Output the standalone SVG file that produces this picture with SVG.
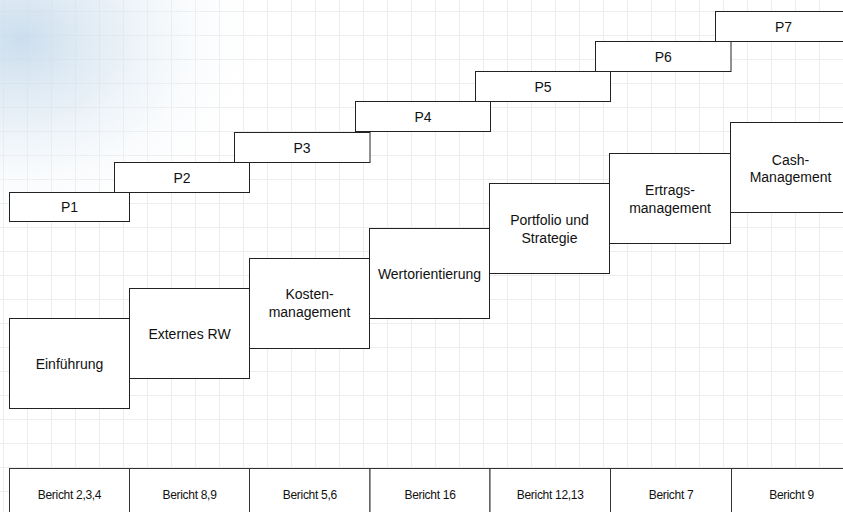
<svg xmlns="http://www.w3.org/2000/svg" width="843" height="512" viewBox="0 0 843 512">
<defs>
<pattern id="grid" x="3" y="11" width="24" height="24" patternUnits="userSpaceOnUse">
<path d="M0.5 0 V24 M0 0.5 H24" stroke="#ededed" stroke-width="1" fill="none"/>
</pattern>
<radialGradient id="cloud" cx="20" cy="40" r="250" gradientUnits="userSpaceOnUse" gradientTransform="translate(20 40) scale(1 0.8) translate(-20 -40)">
<stop offset="0" stop-color="#c6daeb" stop-opacity="0.9"/>
<stop offset="0.4" stop-color="#dae7f2" stop-opacity="0.6"/>
<stop offset="1" stop-color="#ffffff" stop-opacity="0"/>
</radialGradient>
<style>
.box{fill:#ffffff;stroke:#222222;stroke-width:1}
.cell{fill:#ffffff;stroke:#333333;stroke-width:1}
.t{font-family:"Liberation Sans",Arial,sans-serif;font-size:14px;fill:#111111;text-anchor:middle}
.s{font-family:"Liberation Sans",Arial,sans-serif;font-size:12px;fill:#111111;text-anchor:middle;letter-spacing:-0.3px}
</style>
</defs>
<rect x="0" y="0" width="843" height="512" fill="#ffffff"/>
<rect x="0" y="0" width="843" height="512" fill="url(#grid)"/>
<rect x="0" y="0" width="300" height="260" fill="url(#cloud)"/>

<g id="connectors"/>

<g id="P1"><rect class="box" x="9.5" y="192.5" width="120" height="29"/><text class="t" x="69.5" y="212">P1</text></g>
<g id="P2"><rect class="box" x="114.5" y="162.5" width="135" height="30"/><text class="t" x="182" y="182.5">P2</text></g>
<g id="P3"><rect class="box" x="234.5" y="132.5" width="135.5" height="30"/><text class="t" x="302" y="152.5">P3</text></g>
<g id="P4"><rect class="box" x="355.5" y="101.5" width="135" height="30"/><text class="t" x="423" y="121.5">P4</text></g>
<g id="P5"><rect class="box" x="475.5" y="71.5" width="135" height="30"/><text class="t" x="543" y="91.5">P5</text></g>
<g id="P6"><rect class="box" x="595.5" y="41.5" width="135.5" height="30"/><text class="t" x="663.3" y="61.5">P6</text></g>
<g id="P7"><rect class="box" x="715.5" y="11.5" width="135" height="30"/><text class="t" x="783.5" y="31.5">P7</text></g>

<g id="einfuehrung"><rect class="box" x="9.5" y="318.5" width="120" height="90"/><text class="t" x="69.5" y="369">Einführung</text></g>
<g id="externes-rw"><rect class="box" x="129.5" y="288.5" width="120" height="90"/><text class="t" x="189.5" y="338.5">Externes RW</text></g>
<g id="kostenmanagement"><rect class="box" x="249.5" y="258.5" width="120" height="90"/><text class="t" x="309.5" y="299">Kosten-</text><text class="t" x="309.5" y="317">management</text></g>
<g id="wertorientierung"><rect class="box" x="369.5" y="228.5" width="120" height="90"/><text class="t" x="429.5" y="278.5">Wertorientierung</text></g>
<g id="portfolio"><rect class="box" x="489.5" y="183.5" width="120" height="90"/><text class="t" x="549.5" y="224.5">Portfolio und</text><text class="t" x="549.5" y="242.5">Strategie</text></g>
<g id="ertragsmanagement"><rect class="box" x="609.5" y="153.5" width="121" height="90"/><text class="t" x="670" y="195">Ertrags-</text><text class="t" x="670" y="212.5">management</text></g>
<g id="cash-management"><rect class="box" x="730.5" y="122.5" width="120" height="90"/><text class="t" x="790.5" y="164.5">Cash-</text><text class="t" x="790.5" y="182">Management</text></g>

<g id="bericht-row">
<rect class="cell" x="9.5" y="468.5" width="120" height="60"/>
<rect class="cell" x="129.5" y="468.5" width="120" height="60"/>
<rect class="cell" x="249.5" y="468.5" width="120.5" height="60"/>
<rect class="cell" x="370" y="468.5" width="120" height="60"/>
<rect class="cell" x="490" y="468.5" width="120.5" height="60"/>
<rect class="cell" x="610.5" y="468.5" width="121" height="60"/>
<rect class="cell" x="731.5" y="468.5" width="120" height="60"/>
<text class="s" x="69.5" y="498.5">Bericht 2,3,4</text>
<text class="s" x="189.5" y="498.5">Bericht 8,9</text>
<text class="s" x="309.8" y="498.5">Bericht 5,6</text>
<text class="s" x="430" y="498.5">Bericht 16</text>
<text class="s" x="550.2" y="498.5">Bericht 12,13</text>
<text class="s" x="671" y="498.5">Bericht 7</text>
<text class="s" x="791.5" y="498.5">Bericht 9</text>
</g>
</svg>
